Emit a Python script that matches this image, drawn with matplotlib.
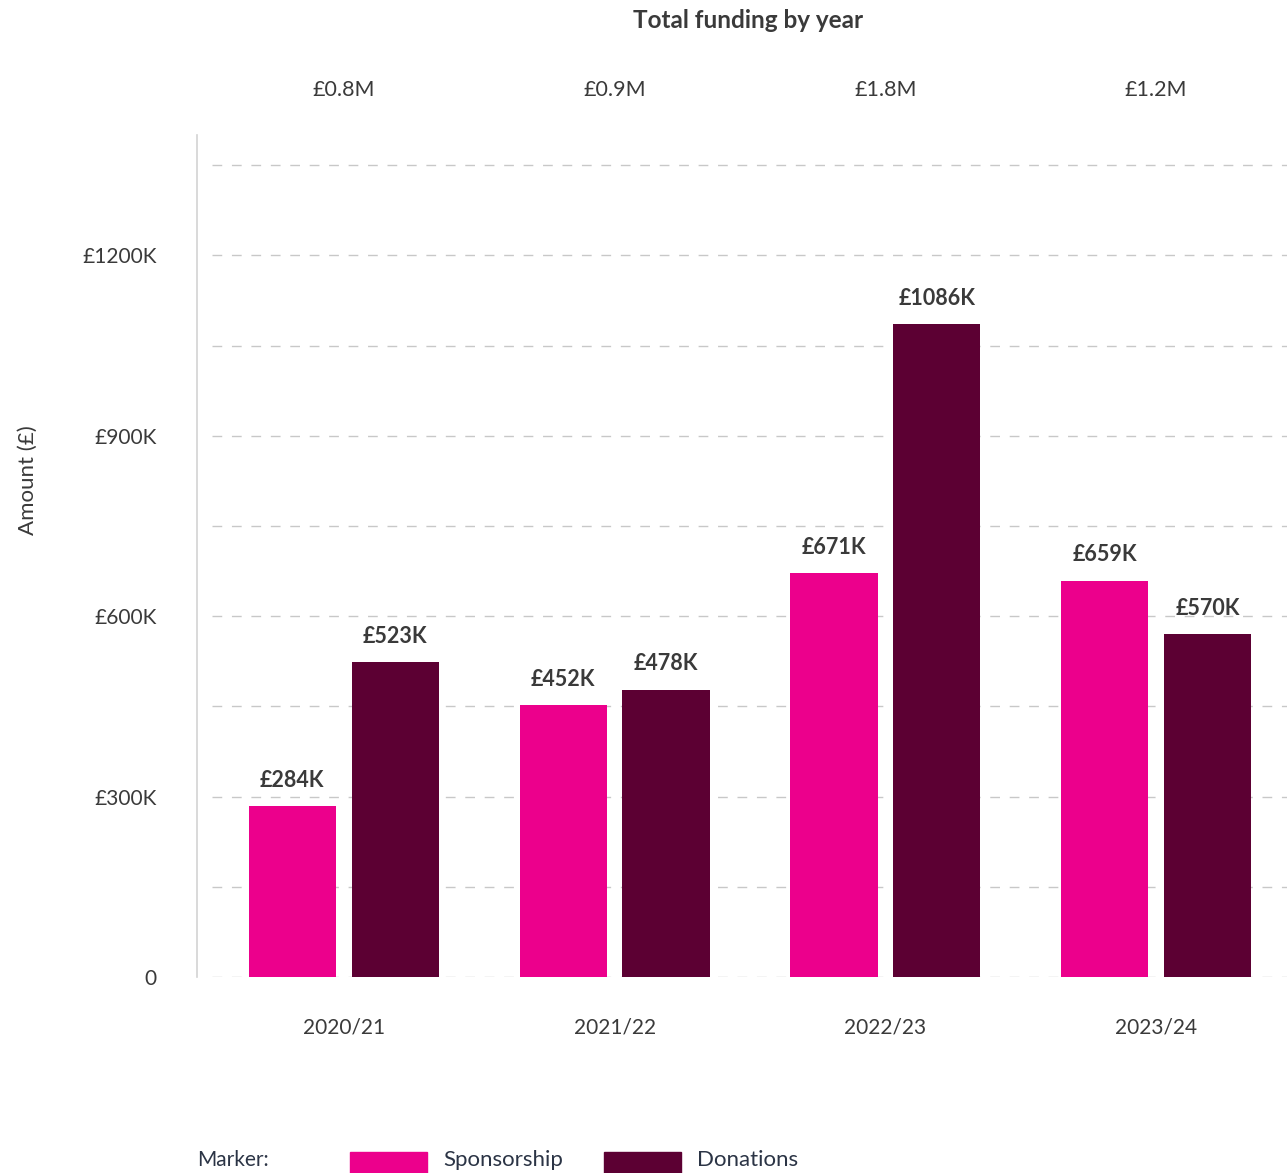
import matplotlib.pyplot as plt
import numpy as np
from matplotlib.patches import Rectangle

plt.rcParams['font.family'] = ['Lato', 'DejaVu Sans']

# Data
years = ['2020/21', '2021/22', '2022/23', '2023/24']
sponsorship = [284, 452, 671, 659]   # £K
donations = [523, 478, 1086, 570]    # £K
totals = ['£0.8M', '£0.9M', '£1.8M', '£1.2M']

pink = '#EC008C'
plum = '#5C0033'
text_col = '#3a3a3a'

W, H = 1287, 1173
fig = plt.figure(figsize=(W / 100, H / 100), dpi=100)
ax = fig.add_axes([197 / W, 1 - 977 / H, (W - 197) / W, (977 - 135) / H])

x = np.arange(len(years))
off, bw = 0.19, 0.322
b1 = ax.bar(x - off, sponsorship, bw, color=pink, zorder=3)
b2 = ax.bar(x + off, donations, bw, color=plum, zorder=3)

for bars, vals in [(b1, sponsorship), (b2, donations)]:
    for r, v in zip(bars, vals):
        ax.annotate(f'£{v}K', (r.get_x() + r.get_width() / 2, v), xytext=(0, 11),
                    textcoords='offset points', ha='center', va='bottom',
                    fontsize=15.5, fontweight='bold', color=text_col)

ax.set_xlim(-0.542, 3.483)
ax.set_ylim(0, 1400)
ax.set_yticks([0, 300, 600, 900, 1200])
ax.set_yticklabels(['0', '£300K', '£600K', '£900K', '£1200K'])
ax.set_xticks(x)
ax.set_xticklabels(years)
ax.tick_params(axis='both', length=0, labelsize=15, labelcolor=text_col)
ax.tick_params(axis='y', pad=29)
ax.tick_params(axis='x', pad=29)

# dashed gridlines every £150K, starting a little right of the axis line
for gy in np.arange(0, 1400, 150):
    ax.axhline(gy, xmin=0.014, color='#c8c8c8', linestyle=(0, (7, 7)), linewidth=1, zorder=0)

for s in ['top', 'right', 'bottom']:
    ax.spines[s].set_visible(False)
ax.spines['left'].set_color('#d3d3d3')
ax.spines['left'].set_linewidth(1.2)

# Totals above each year
for xi, t in zip(x, totals):
    ax.text(xi, 1.0534, t, transform=ax.get_xaxis_transform(), ha='center', va='center',
            fontsize=15.5, color=text_col)

fig.text(748 / W, 1 - 21 / H, 'Total funding by year', ha='center', va='center',
         fontsize=17.5, fontweight='bold', color=text_col)
fig.text(28 / W, 1 - 480 / H, 'Amount (£)', rotation=90, ha='center', va='center',
         fontsize=16, color=text_col)

# Legend
leg_col = '#2b3445'
fig.text(197 / W, 1 - 1160 / H, 'Marker:', ha='left', va='center', fontsize=15, color=leg_col)
fig.patches.append(Rectangle((350 / W, 0), 77 / W, 21 / H, transform=fig.transFigure,
                             color=pink, figure=fig))
fig.text(443 / W, 1 - 1160 / H, 'Sponsorship', ha='left', va='center', fontsize=16, color=leg_col)
fig.patches.append(Rectangle((604 / W, 0), 77 / W, 21 / H, transform=fig.transFigure,
                             color=plum, figure=fig))
fig.text(697 / W, 1 - 1160 / H, 'Donations', ha='left', va='center', fontsize=16, color=leg_col)

plt.savefig('out.png', dpi=100)
plt.close()
